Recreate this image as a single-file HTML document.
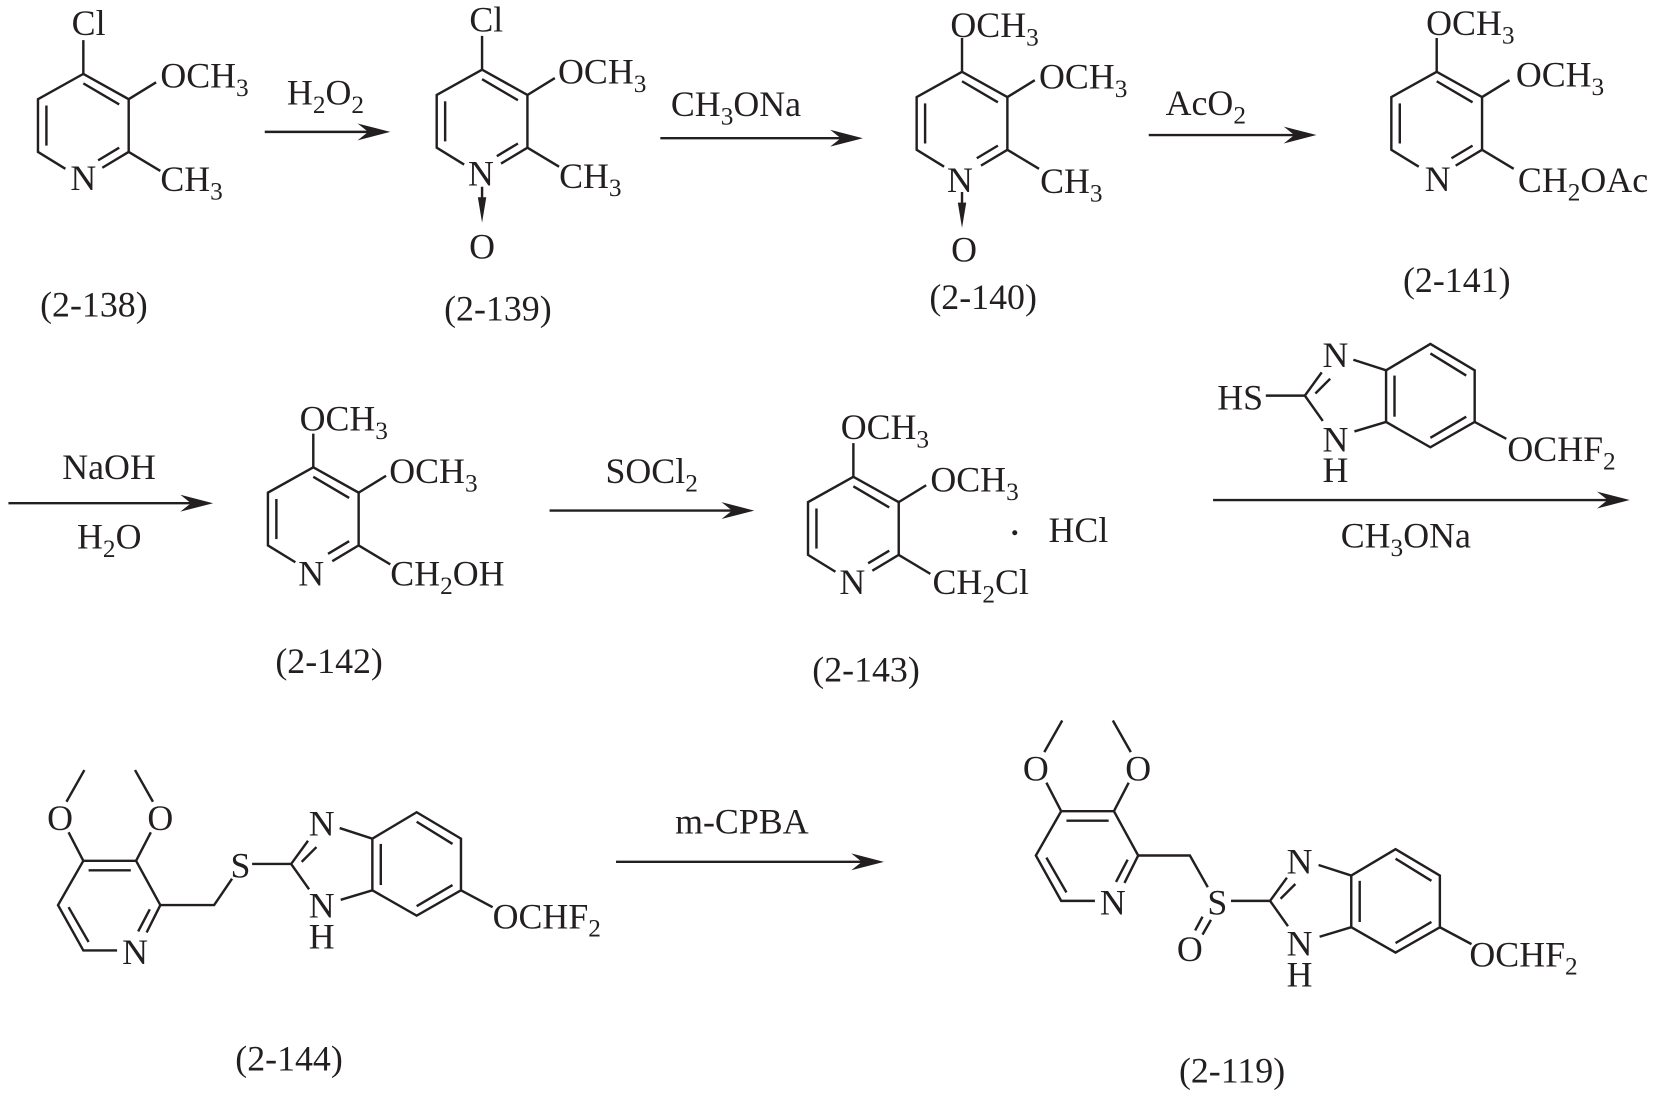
<!DOCTYPE html>
<html><head><meta charset="utf-8"><style>
html,body{margin:0;padding:0;background:#fff}
svg{display:block}
text{font-family:"Liberation Serif",serif;font-size:34px;fill:#231f20}
tspan.s{font-size:24px}
.b line,.b polyline{stroke:#231f20;stroke-width:2.3;fill:none}
</style></head><body>
<svg width="1654" height="1095" viewBox="0 0 1568 1038" xmlns="http://www.w3.org/2000/svg">
<defs>
<g id="pyr" class="b">
<polyline points="0,-32 0,0 43,24 43,74 73,92"/>
<polyline points="0,0 -43,24 -43,74 -17,90"/>
<line x1="43" y1="74" x2="18" y2="89"/>
<line x1="43" y1="24" x2="69" y2="8"/>
<line x1="0" y1="9" x2="34" y2="29"/>
<line x1="-35" y1="30" x2="-35" y2="68"/>
<line x1="14" y1="82" x2="34" y2="70"/>
</g>
<g id="bzi" class="b">
<line x1="-37" y1="0" x2="0" y2="0"/>
<polyline points="16,-22 0,0 17,24"/>
<line x1="10" y1="-2" x2="24" y2="-16"/>
<polyline points="46,-34 77,-24 119,-49 161,-24 161,25 119,49 77,25 47,34"/>
<line x1="77" y1="-24" x2="77" y2="25"/>
<line x1="85" y1="-19" x2="85" y2="20"/>
<line x1="119" y1="-40" x2="153" y2="-19"/>
<line x1="119" y1="40" x2="153" y2="20"/>
<line x1="161" y1="25" x2="191" y2="41"/>
</g>
<g id="omz" class="b">
<polyline points="1006,769 1056,769 1079,811 1066,837"/>
<polyline points="1038,854 1006,854 982,811 1006,769"/>
<line x1="1011" y1="778" x2="1051" y2="778"/>
<line x1="992" y1="813" x2="1011" y2="846"/>
<line x1="1069" y1="815" x2="1058" y2="836"/>
<polyline points="1006,769 992,742"/>
<polyline points="1056,769 1070,742"/>
<line x1="990" y1="713" x2="1007" y2="683"/>
<line x1="1072" y1="713" x2="1055" y2="683"/>
</g>
<polygon id="ah" points="-31,-8 0,0 -31,8 -21,0" fill="#231f20"/>
</defs>

<!-- row 1 -->
<use href="#pyr" x="79" y="70"/>
<text x="84" y="33" text-anchor="middle">Cl</text>
<text x="152" y="83">OCH<tspan class="s" dy="8">3</tspan></text>
<text x="152" y="181">CH<tspan class="s" dy="8">3</tspan></text>
<text x="79" y="180" text-anchor="middle">N</text>
<text x="89" y="300" text-anchor="middle">(2-138)</text>

<use href="#pyr" x="457" y="66"/>
<text x="461" y="30" text-anchor="middle">Cl</text>
<text x="529" y="79">OCH<tspan class="s" dy="8">3</tspan></text>
<text x="530" y="178">CH<tspan class="s" dy="8">3</tspan></text>
<text x="456" y="176" text-anchor="middle">N</text>
<g class="b"><line x1="457" y1="177" x2="457" y2="195"/></g>
<polygon points="453,187 457,211 461,187" fill="#231f20"/>
<text x="457" y="245" text-anchor="middle">O</text>
<text x="472" y="304" text-anchor="middle">(2-139)</text>

<use href="#pyr" x="912" y="68"/>
<text x="901" y="35">OCH<tspan class="s" dy="8">3</tspan></text>
<text x="985" y="84">OCH<tspan class="s" dy="8">3</tspan></text>
<text x="986" y="183">CH<tspan class="s" dy="8">3</tspan></text>
<text x="910" y="182" text-anchor="middle">N</text>
<g class="b"><line x1="912" y1="182" x2="912" y2="200"/></g>
<polygon points="908,192 912,216 916,192" fill="#231f20"/>
<text x="914" y="248" text-anchor="middle">O</text>
<text x="932" y="293" text-anchor="middle">(2-140)</text>

<use href="#pyr" x="1362" y="68"/>
<text x="1352" y="33">OCH<tspan class="s" dy="8">3</tspan></text>
<text x="1437" y="82">OCH<tspan class="s" dy="8">3</tspan></text>
<text x="1439" y="182">CH<tspan class="s" dy="8">2</tspan><tspan dy="-8">OAc</tspan></text>
<text x="1363" y="181" text-anchor="middle">N</text>
<text x="1381" y="277" text-anchor="middle">(2-141)</text>

<!-- row 2 -->
<use href="#pyr" x="297" y="443"/>
<text x="284" y="408">OCH<tspan class="s" dy="8">3</tspan></text>
<text x="369" y="458">OCH<tspan class="s" dy="8">3</tspan></text>
<text x="370" y="555">CH<tspan class="s" dy="8">2</tspan><tspan dy="-8">OH</tspan></text>
<text x="295" y="555" text-anchor="middle">N</text>
<text x="312" y="638" text-anchor="middle">(2-142)</text>

<use href="#pyr" x="809" y="452"/>
<text x="797" y="416">OCH<tspan class="s" dy="8">3</tspan></text>
<text x="882" y="466">OCH<tspan class="s" dy="8">3</tspan></text>
<text x="884" y="563">CH<tspan class="s" dy="8">2</tspan><tspan dy="-8">Cl</tspan></text>
<text x="808" y="563" text-anchor="middle">N</text>
<circle cx="962" cy="505" r="2.4" fill="#231f20"/>
<text x="994" y="514">HCl</text>
<text x="821" y="646" text-anchor="middle">(2-143)</text>

<use href="#bzi" x="1237" y="375"/>
<text x="1154" y="388">HS</text>
<text x="1266" y="348" text-anchor="middle">N</text>
<text x="1266" y="428" text-anchor="middle">N</text>
<text x="1266" y="457" text-anchor="middle">H</text>
<text x="1429" y="437">OCHF<tspan class="s" dy="8">2</tspan></text>

<!-- row 3 -->
<use href="#omz" x="-927" y="47"/>
<g class="b"><polyline points="152,858 203,858 220,833"/></g>
<text x="57" y="787" text-anchor="middle">O</text>
<text x="152" y="787" text-anchor="middle">O</text>
<text x="128" y="914" text-anchor="middle">N</text>
<text x="228" y="832" text-anchor="middle">S</text>
<use href="#bzi" x="276" y="819"/>
<text x="305" y="792" text-anchor="middle">N</text>
<text x="305" y="870" text-anchor="middle">N</text>
<text x="305" y="899" text-anchor="middle">H</text>
<text x="467" y="880">OCHF<tspan class="s" dy="8">2</tspan></text>
<text x="274" y="1015" text-anchor="middle">(2-144)</text>

<use href="#omz"/>
<g class="b"><polyline points="1079,811 1128,811 1145,841"/>
<line x1="1140" y1="869" x2="1133" y2="882"/><line x1="1148" y1="872" x2="1140" y2="886"/></g>
<text x="982" y="740" text-anchor="middle">O</text>
<text x="1079" y="740" text-anchor="middle">O</text>
<text x="1055" y="867" text-anchor="middle">N</text>
<text x="1154" y="867" text-anchor="middle">S</text>
<text x="1128" y="911" text-anchor="middle">O</text>
<use href="#bzi" x="1204" y="854"/>
<text x="1232" y="828" text-anchor="middle">N</text>
<text x="1232" y="906" text-anchor="middle">N</text>
<text x="1232" y="935" text-anchor="middle">H</text>
<text x="1393" y="916">OCHF<tspan class="s" dy="8">2</tspan></text>
<text x="1168" y="1026" text-anchor="middle">(2-119)</text>

<!-- arrows -->
<g class="b">
<line x1="251" y1="125" x2="355" y2="125"/>
<line x1="626" y1="131" x2="800" y2="131"/>
<line x1="1089" y1="128" x2="1230" y2="128"/>
<line x1="8" y1="477" x2="185" y2="477"/>
<line x1="521" y1="484" x2="698" y2="484"/>
<line x1="1150" y1="474" x2="1528" y2="474"/>
<line x1="584" y1="817" x2="820" y2="817"/>
</g>
<use href="#ah" x="370" y="125"/>
<use href="#ah" x="818" y="131"/>
<use href="#ah" x="1248" y="128"/>
<use href="#ah" x="202" y="477"/>
<use href="#ah" x="715" y="484"/>
<use href="#ah" x="1545" y="474"/>
<use href="#ah" x="838" y="817"/>

<text x="272" y="99">H<tspan class="s" dy="8">2</tspan><tspan dy="-8">O</tspan><tspan class="s" dy="8">2</tspan></text>
<text x="636" y="110">CH<tspan class="s" dy="8">3</tspan><tspan dy="-8">ONa</tspan></text>
<text x="1105" y="109">AcO<tspan class="s" dy="8">2</tspan></text>
<text x="59" y="454">NaOH</text>
<text x="73" y="520">H<tspan class="s" dy="8">2</tspan><tspan dy="-8">O</tspan></text>
<text x="574" y="458">SOCl<tspan class="s" dy="8">2</tspan></text>
<text x="1271" y="519">CH<tspan class="s" dy="8">3</tspan><tspan dy="-8">ONa</tspan></text>
<text x="640" y="790">m-CPBA</text>
</svg>
</body></html>
